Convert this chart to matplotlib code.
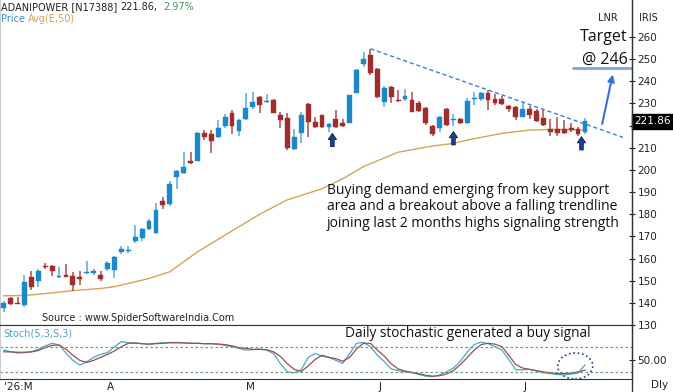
import numpy as np
import matplotlib.pyplot as plt
from matplotlib.patches import Ellipse
from matplotlib.lines import Line2D

# ADANIPOWER daily candles (open, high, low, close)
opens = [137.5, 142, 140, 139, 151.5, 150, 156.6, 156.5, 151.5, 152.5,
         152, 151.8, 153.3, 153.5, 152.7, 155.4, 154.8, 163, 163.3, 168,
         169.3, 173.5, 171.6, 186, 184.6, 197, 198.8, 204.2, 204.2, 216.8,
         216, 215, 219.8, 225.8, 217.4, 223.1, 228.3, 233, 230.5, 231.7,
         225, 223.6, 209.3, 216.5, 229.7, 221.6, 224.6, 219.5, 223, 221,
         221.3, 234.9, 247.8, 251.7, 245.4, 230.7, 237.6, 231.3, 232.2, 231.6,
         230.4, 228, 219.8, 218.9, 227.6, 222.5, 223.1, 221, 232, 231.9,
         234.9, 231.9, 232.2, 228.8, 228.5, 224, 227.6, 226.4, 223.4, 218.3,
         218.3, 218.6, 218.4, 218.3, 217]
highs = [141, 142.5, 142.5, 152.5, 154.5, 155.5, 158, 157, 156, 157.5,
         154, 154.5, 158.7, 155.5, 154.5, 158.8, 161, 165.6, 165.6, 175,
         173.8, 178, 184.9, 187.6, 195, 200, 208, 208.2, 217.2, 218,
         218, 222.5, 225.2, 227, 223, 234.6, 235, 233.5, 234.3, 232,
         226, 225.6, 218.3, 226, 230, 224, 225, 221, 227, 222.8,
         234, 245.5, 253.2, 254.7, 246, 238, 238, 236, 236.7, 235,
         231, 228.5, 220.5, 224.5, 228, 225.2, 223.5, 232.5, 235, 235.3,
         236, 234.3, 233.5, 229.3, 229, 230.4, 229, 227.5, 227.3, 222.8,
         224, 222.5, 221, 219.5, 223.3]
lows = [136, 139, 139.5, 138, 146, 147, 155.5, 152, 151.3, 151.5,
        145.5, 148, 153, 152.4, 150, 154.5, 151.3, 162, 162.5, 167,
        168, 173, 171, 182.2, 183.7, 191.2, 198, 202.5, 204, 213.5,
        207.8, 214.5, 219, 216.2, 215.3, 222.5, 227.5, 225.6, 230, 225.5,
        218.8, 209, 209, 212.3, 214.7, 219, 218.8, 217, 219, 219.5,
        221, 234.5, 246.3, 243, 232.5, 228.3, 230, 230.5, 231, 226,
        226, 220.5, 215.5, 217.3, 220, 219.8, 220.7, 220.8, 229.5, 231,
        227, 229.5, 229.5, 226.3, 222.5, 223.7, 222.8, 221.5, 219.8, 215.3,
        215.3, 216, 217, 215.5, 216.2]
closes = [140, 139.5, 139.6, 149.5, 147, 154.5, 156, 154.5, 152, 151.8,
          148.2, 150.6, 154, 154.3, 150.9, 157.8, 160.5, 164.2, 164, 169.8,
          173.2, 176.8, 181.9, 184, 193.6, 199.4, 201.5, 203.3, 216.5, 214.7,
          213.2, 218.8, 224, 219.8, 222.5, 228.1, 230.5, 229.3, 230.8, 225.8,
          222.5, 209.7, 214.7, 224.9, 221.6, 219.5, 219.2, 220.6, 219.5, 219.8,
          233.7, 245.1, 250, 243.6, 232.8, 237, 232.8, 230.9, 233.4, 226.3,
          226.7, 221, 216, 223.7, 220.4, 223.1, 221, 231, 232.4, 234.6,
          231.6, 230.1, 229.8, 227.6, 224, 227.3, 224.8, 222, 220.1, 217.3,
          216.5, 216.8, 218.2, 216.2, 221.86]

# 50 day EMA, read at a few candles
ema_idx = [0, 3, 7, 10, 14, 16, 19, 21, 24, 28, 33, 37, 41, 46, 49, 52, 57, 62, 65, 67, 72, 76, 80, 84]
ema_val = [143.2, 143.3, 144.5, 145.5, 146.5, 147.3, 149.5, 151, 154, 163, 172.5, 180, 186.5,
           191.5, 196, 201.5, 208, 210.8, 212, 213.5, 216.5, 218, 218.3, 218]

# Stoch(5,3,S,3): %K and %D
stoch_k = [72, 68, 65, 66, 68, 74, 82, 88, 84, 65, 48, 37, 45, 55, 62, 66, 80, 92, 89, 88,
           87, 86, 88, 89, 90, 90, 89, 88, 88, 87, 87, 86, 83, 80, 76, 72, 73, 74, 72, 64,
           40, 21, 19, 26, 55, 64, 58, 55, 48, 41, 64, 88, 90, 80, 60, 45, 28, 24, 21, 19,
           15, 11, 10, 14, 21, 30, 46, 68, 85, 91, 87, 80, 72, 50, 26, 26, 27, 23, 19, 17,
           15, 14, 16, 18, 37]
stoch_d = [68, 68, 67, 67, 68, 71, 78, 83, 84, 74, 60, 48, 43, 48, 55, 62, 70, 80, 88, 89,
           87, 86, 87, 88, 89, 89, 89, 88, 88, 87, 87, 86, 85, 82, 78, 76, 74, 74, 73, 68,
           57, 40, 27, 22, 35, 50, 60, 55, 52, 46, 55, 75, 88, 88, 72, 58, 40, 28, 23, 20,
           17, 13, 11, 12, 16, 24, 38, 55, 72, 85, 88, 86, 80, 60, 38, 30, 27, 24, 21, 19,
           17, 17, 18, 21, 25]

month_pos = [0, 15.4, 35.6, 54.4, 75.3]
month_labels = ["'26:M", "A", "M", "J", "J"]

last_price = 221.86
change_pct = 2.97
target = 246
trend_x = [53, 89.5]
trend_y = [254.7, 214.7]
signal_idx = [47.5, 65, 83.5]
signal_top = [216.5, 217.3, 215]

BLUE = "#1c87c9"
RED = "#9e2d2b"

W, H = 673, 392
fig = plt.figure(figsize=(W / 100, H / 100), dpi=100)
ax = fig.add_axes([0, 1 - 325 / H, 632 / W, 325 / H])
st = fig.add_axes([0, 1 - 379 / H, 632 / W, 54 / H])

x = np.arange(len(closes))
o, h, l, c = map(np.array, (opens, highs, lows, closes))
up = c >= o
cols = np.where(up, BLUE, RED)
wick_cols = np.where(up, "#5aa8d6", "#b04848")

ax.vlines(x, l, h, colors=wick_cols, lw=1.1, zorder=2)
ax.bar(x, np.maximum(np.abs(c - o), 0.5), bottom=np.minimum(o, c), width=0.7,
       color=cols, edgecolor=cols, lw=0.3, zorder=3)
ax.plot(ema_idx, ema_val, color="#d8a358", lw=1.0, zorder=1)

# falling trendline and target
ax.plot(trend_x, trend_y, color="#3d7be0", lw=1, ls=(0, (3, 2)))
ax.hlines(target, 82.2, 90.8, color="#7fa3dd", lw=2)
ax.annotate("", xy=(88.1, 244.3), xytext=(86.4, 219.5),
            arrowprops=dict(arrowstyle="-|>", color="#3a6fd8", lw=1.5, mutation_scale=10))
for sx, sy in zip(signal_idx, signal_top):
    ax.annotate("", xy=(sx, sy), xytext=(sx, sy - 6),
                arrowprops=dict(arrowstyle="simple,head_width=0.75,head_length=0.55,tail_width=0.32",
                                mutation_scale=8, shrinkA=0, shrinkB=0,
                                fc="#1f3f8f", ec="#0d1d4a", lw=0.6))

ax.set_xlim(-0.535, 90.8)
ax.set_ylim(130, 276.7)
ax.set_xticks([])
ax.yaxis.tick_right()
price_ticks = list(range(130, 261, 10))
ax.set_yticks(price_ticks)
ax.set_yticklabels(["" if t == 220 else str(t) for t in price_ticks])
ax.tick_params(axis="y", direction="inout", length=4, labelsize=7.5, colors="#222", pad=2)
ax.spines["top"].set_visible(False)
ax.spines["left"].set_color("#cccccc")
ax.spines["bottom"].set_color("#333333")
ax.spines["right"].set_color("#333333")
ax.text(1.004, last_price, f"{last_price:.2f}", transform=ax.get_yaxis_transform(),
        color="white", fontsize=7.5, va="center", ha="left",
        bbox=dict(boxstyle="square,pad=0.2", fc="black", ec="black"))

# stochastic panel
st.plot(x, stoch_k, color="#45aacb", lw=0.9)
st.plot(x, stoch_d, color="#9c4d4d", lw=0.9)
st.axhline(80, color="#6e9e6e", lw=0.9, ls=(0, (2, 2)))
st.axhline(20, color="#6e9e6e", lw=0.9, ls=(0, (2, 2)))
st.add_patch(Ellipse((82.6, 34.8), 5.06, 61, fill=False, ls=":", ec="#1f3f8f", lw=1.2))
st.set_xlim(-0.535, 90.8)
st.set_ylim(4.4, 130.8)
st.yaxis.tick_right()
st.set_yticks([50])
st.set_yticklabels(["50.00"])
st.tick_params(axis="y", direction="inout", length=4, labelsize=7.5, colors="#222", pad=2)
st.xaxis.set_visible(False)
for mp, lab in zip(month_pos, month_labels):
    st.annotate(lab, xy=(mp, 0), xycoords=("data", "axes fraction"),
                xytext=(0, -2), textcoords="offset points", fontsize=7.5,
                color="#222", va="top", ha="left" if mp == 0 else "center")
for sp in ("top", "bottom", "right"):
    st.spines[sp].set_color("#333333")
st.spines["left"].set_color("#cccccc")
st.text(0.005, 0.84, "Stoch(5,3,S,3)", transform=st.transAxes, color="#4aa3c9",
        fontsize=7, va="center", ha="left")
st.text(345 / 632, 0.84, "Daily stochastic generated a buy signal", transform=st.transAxes,
        fontsize=9.8, family="Open Sans", va="center", ha="left", color="#111")

fig.add_artist(Line2D([632 / W, 632 / W], [0, 1], color="#333333", lw=1))

# header
def ftext(px_x, px_y, s, **kw):
    fig.text(px_x / W, 1 - px_y / H, s, **kw)

ftext(1, 7, "ADANIPOWER [N17388]", fontsize=7, color="#222", va="center")
ftext(120, 7, f"{last_price:.2f},", fontsize=7, color="#222", va="center")
ftext(163, 7, f"{change_pct:.2f}%", fontsize=7, color="#3c9a5a", va="center")
ftext(1, 19, "Price", fontsize=7, color="#3a8fc0", va="center")
ftext(28, 19, "Avg(E,50)", fontsize=7, color="#e0a050", va="center")
ftext(608, 18, "LNR", fontsize=7, color="#222", va="center", ha="center")
ftext(648, 18, "IRIS", fontsize=7, color="#222", va="center", ha="center")
ftext(660, 385, "Dly", fontsize=7.5, color="#222", va="center", ha="center")
ftext(628, 37, "Target", fontsize=11.5, family="Open Sans", color="#111", va="center", ha="right")
ftext(628, 60, "@ 246", fontsize=11.5, family="Open Sans", color="#111", va="center", ha="right")
ftext(42, 318, "Source : www.SpiderSoftwareIndia.Com", fontsize=7, color="#222", va="center")
ftext(327, 207, "Buying demand emerging from key support\n"
      "area and a breakout above a falling trendline\n"
      "joining last 2 months highs signaling strength",
      fontsize=10, family="Open Sans", color="#111", va="center", linespacing=1.1)

fig.savefig("out.png", dpi=100)
